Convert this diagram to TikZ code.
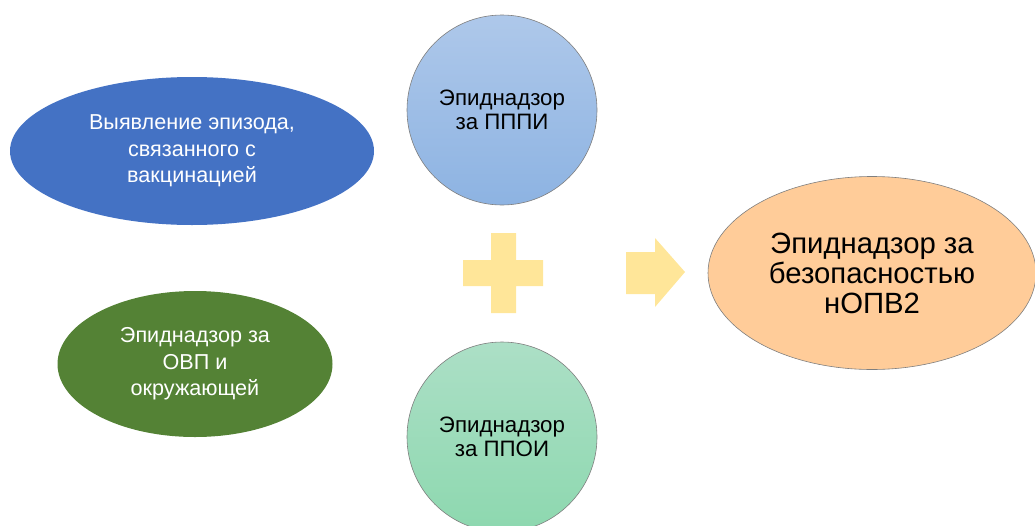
\documentclass[tikz,border=0pt]{standalone}
\usepackage{fontspec}
\setmainfont{Liberation Sans}
\usetikzlibrary{shapes.geometric}

\definecolor{vacblue}{HTML}{4472C4}
\definecolor{envgreen}{HTML}{548235}
\definecolor{safeorange}{HTML}{FFCC99}
\definecolor{signyellow}{HTML}{FFE699}
\definecolor{rimgray}{HTML}{7F7F7F}
\definecolor{pppitop}{HTML}{AEC8EA}
\definecolor{pppibottom}{HTML}{8DB3E2}
\definecolor{ppoitop}{HTML}{ACDFC6}
\definecolor{ppoibottom}{HTML}{8DD8AF}

\begin{document}
\begin{tikzpicture}[x=1pt,y=-1pt,
    oval/.style={ellipse,inner sep=0pt,align=center},
    ring/.style={circle,minimum size=190pt,inner sep=0pt,align=center,
      draw=rimgray,line width=0.6pt,font=\fontsize{22.3}{23.5}\selectfont}]

  \clip (0,0) rectangle (1035,525);

  \begin{scope}[every node/.style={oval,text=white,font=\fontsize{21.6}{26.5}\selectfont}]
    \node[fill=vacblue,minimum width=364pt,minimum height=148pt]
      (episode) at (192,151) {Выявление эпизода,\\связанного с\\вакцинацией};
    \node[fill=envgreen,minimum width=275pt,minimum height=146pt]
      (environment) at (195,364) {Эпиднадзор за\\ОВП и\\окружающей};
  \end{scope}

  \node[ring,top color=pppitop,bottom color=pppibottom]
    (pppi) at (502,110) {Эпиднадзор\\за ПППИ};
  \node[ring,top color=ppoitop,bottom color=ppoibottom]
    (ppoi) at (502,437) {Эпиднадзор\\за ППОИ};

  \node[oval,fill=safeorange,draw=rimgray,line width=0.6pt,
    minimum width=328pt,minimum height=193pt,font=\fontsize{29.3}{30}\selectfont]
    (safety) at (872,273) {Эпиднадзор за\\безопасностью\\нОПВ2};

  % plus sign
  \fill[signyellow] (491,233) -- (516,233) -- (516,260) -- (543,260) -- (543,286)
    -- (516,286) -- (516,313) -- (491,313) -- (491,286) -- (463,286) -- (463,260)
    -- (491,260) -- cycle;

  % block arrow
  \fill[signyellow] (626,252) -- (655,252) -- (655,238) -- (685,272) -- (655,307)
    -- (655,294) -- (626,294) -- cycle;

\end{tikzpicture}
\end{document}
